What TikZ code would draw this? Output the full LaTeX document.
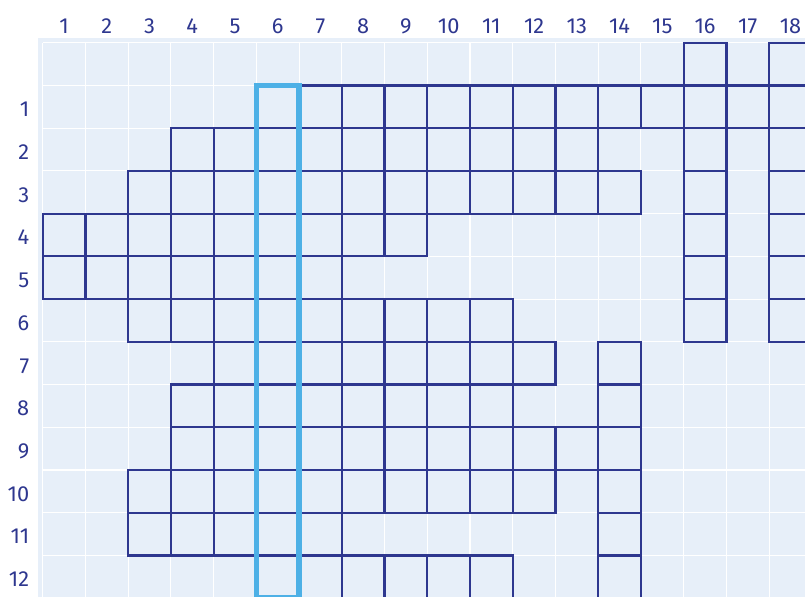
\documentclass[tikz,border=0pt]{standalone}
\usepackage{fontspec}
\setmainfont{Fira Sans}
\usepackage{xcolor}
\usetikzlibrary{positioning}
\definecolor{navy}{HTML}{2E378F}
\definecolor{sky}{HTML}{4DB0E6}
\definecolor{paper}{HTML}{E7EFF9}

\begin{document}
\begin{tikzpicture}[
    lbl/.style={text=navy, font=\fontsize{14.5}{17}\selectfont, inner sep=0pt},
    cell/.style={draw=navy, line width=1.5pt},
    hl/.style={draw=sky, line width=3.6pt},
    gridln/.style={draw=white, line width=0.7pt}
]
    \clip (0,0) rectangle (18.84,-13.97);
    \fill[paper] (0.897,-0.897) rectangle (19.5,-14.5);
    \draw[gridln] (1,-1) grid (20,-15);

    % crossword cells, row by row
    \foreach \r/\cs in {0/{16,18}, 1/{6,...,18}, 2/{4,...,13,16,18}, 3/{3,...,14,16,18},
                        4/{1,...,9,16,18}, 5/{1,...,7,16,18}, 6/{3,...,11,16,18},
                        7/{5,...,12,14}, 8/{4,...,11,14}, 9/{4,...,14},
                        10/{3,...,12,14}, 11/{3,...,7,14}, 12/{6,...,11,14}}
        \foreach \c in \cs
            \draw[cell] (\c,{-\r-1}) rectangle ++(1,-1);

    % highlighted column
    \draw[hl] (6,-2) rectangle (7,-14);

    % labels
    \foreach \c in {1,...,18}
        \node[lbl, anchor=base] (c\c) at ({\c+0.5},-0.78) {\c};
    \foreach \r in {1,...,12}
        \node[lbl, anchor=base east] (r\r) at (0.69,{-\r-1.73}) {\r};
\end{tikzpicture}
\end{document}
